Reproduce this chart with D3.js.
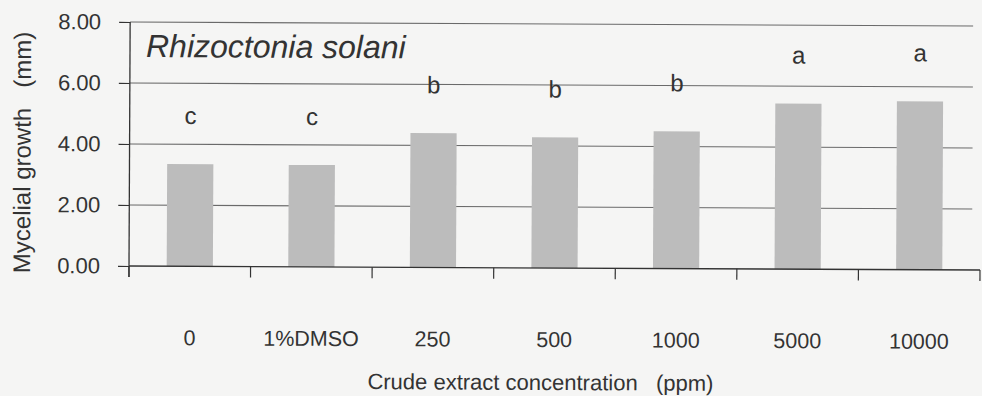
<!DOCTYPE html>
<html>
<head>
<meta charset="utf-8">
<script src="https://cdn.jsdelivr.net/npm/d3@7"></script>
<style>
  html, body { margin: 0; padding: 0; background: #f5f5f4; }
  svg { display: block; }
  text { font-family: "Liberation Sans", Arial, sans-serif; fill: #333; }
</style>
</head>
<body>
<svg id="chart" width="982" height="396"></svg>
<script>
// ---- data ----
const categories = ["0", "1%DMSO", "250", "500", "1000", "5000", "10000"];
const growth = [3.35, 3.34, 4.40, 4.28, 4.50, 5.43, 5.52];
const letters = ["c", "c", "b", "b", "b", "a", "a"];
const yTicks = [0, 2, 4, 6, 8];
const titleText = "Rhizoctonia solani";
const xTitle = "Crude extract concentration   (ppm)";
const yTitle = "Mycelial growth   (mm)";

// ---- layout ----
const W = 982, H = 396;
const mLeft = 129, mRight = 980, mTop = 22, mBottom = 266;

const svg = d3.select("#chart");
svg.append("rect").attr("width", W).attr("height", H).attr("fill", "#f5f5f4");

// slight scan tilt
const g = svg.append("g").attr("transform", `rotate(0.27, ${mLeft}, ${mBottom})`);

const x = d3.scaleBand().domain(categories).range([mLeft, mRight])
  .paddingInner(0.62).paddingOuter(0.31);
const y = d3.scaleLinear().domain([0, 8]).range([mBottom, mTop]);

// gridlines
g.append("g").selectAll("line").data(yTicks.filter(d => d > 0)).join("line")
  .attr("x1", mLeft).attr("x2", 972)
  .attr("y1", d => y(d)).attr("y2", d => y(d))
  .attr("stroke", "#6a6a6a").attr("stroke-width", 1.1);

// bars
g.append("g").selectAll("rect").data(categories).join("rect")
  .attr("x", d => x(d))
  .attr("width", x.bandwidth())
  .attr("y", (d, i) => y(growth[i]))
  .attr("height", (d, i) => y(0) - y(growth[i]))
  .attr("fill", "#bcbcbc");

// significance letters
g.append("g").selectAll("text").data(categories).join("text")
  .attr("x", d => x(d) + x.bandwidth() / 2)
  .attr("y", (d, i) => y(growth[i]) - 40)
  .attr("text-anchor", "middle")
  .attr("font-size", 24)
  .text((d, i) => letters[i]);

// y axis
const yAxis = g.append("g").attr("transform", `translate(${mLeft},0)`)
  .call(d3.axisLeft(y).tickValues(yTicks).tickFormat(d3.format(".2f"))
    .tickSize(11).tickPadding(18));
yAxis.select(".domain").remove();
yAxis.selectAll("line").attr("stroke", "#333").attr("stroke-width", 1.2);
yAxis.selectAll("text").attr("font-size", 22).attr("fill", "#333")
  .attr("font-family", "'Liberation Sans', Arial, sans-serif");
g.append("line").attr("x1", mLeft).attr("x2", mLeft).attr("y1", mTop).attr("y2", mBottom + 11)
  .attr("stroke", "#333").attr("stroke-width", 1.3);

// x axis baseline
g.append("line").attr("x1", mLeft).attr("x2", mRight).attr("y1", mBottom).attr("y2", mBottom)
  .attr("stroke", "#333").attr("stroke-width", 1.3);
// x axis ticks at band boundaries
const bounds = d3.range(categories.length + 1).map(i => x.range()[0] + i * x.step());
g.append("g").selectAll("line").data(bounds).join("line")
  .attr("x1", d => d).attr("x2", d => d)
  .attr("y1", mBottom).attr("y2", mBottom + 11)
  .attr("stroke", "#333").attr("stroke-width", 1.2);
// x tick labels
g.append("g").selectAll("text").data(categories).join("text")
  .attr("x", d => x(d) + x.bandwidth() / 2)
  .attr("y", 345)
  .attr("text-anchor", "middle")
  .attr("font-size", 21.5)
  .text(d => d);

// axis titles
g.append("text")
  .attr("x", 541).attr("y", 388)
  .attr("text-anchor", "middle")
  .attr("font-size", 22)
  .style("white-space", "pre")
  .text(xTitle);

g.append("text")
  .attr("transform", "translate(30,153) rotate(-90)")
  .attr("text-anchor", "middle")
  .attr("font-size", 24)
  .style("white-space", "pre")
  .text(yTitle);

// chart title
g.append("text")
  .attr("x", 145).attr("y", 57)
  .attr("font-size", 32)
  .attr("font-style", "italic")
  .text(titleText);
</script>
</body>
</html>
